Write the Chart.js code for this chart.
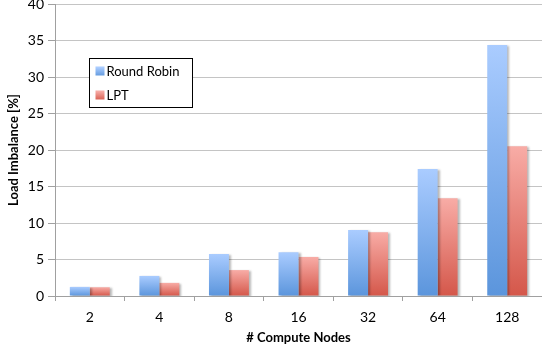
<!DOCTYPE html>
<html>
<head>
<meta charset="utf-8">
<script src="https://cdn.jsdelivr.net/npm/chart.js@4.4.1/dist/chart.umd.min.js"></script>
<style>
  html, body { margin: 0; padding: 0; background: #fff; }
  #wrap { width: 542px; height: 351px; position: relative; }
</style>
</head>
<body>
<div id="wrap"><canvas id="c"></canvas></div>
<script>
// Load imbalance per scheduling strategy over node counts
const nodeCounts = ['2', '4', '8', '16', '32', '64', '128'];
const roundRobin = [1.25, 2.75, 5.75, 6.0, 9.05, 17.4, 34.4];
const lpt = [1.2, 1.8, 3.55, 5.35, 8.75, 13.4, 20.5];
const yTicks = [0, 5, 10, 15, 20, 25, 30, 35, 40];

const FONT = 'Lato, "Open Sans", "DejaVu Sans", sans-serif';

// vertical gradient spanning each bar from its top to the baseline
function barGradient(top, bottom) {
  return function (ctx) {
    const chart = ctx.chart;
    if (!chart.chartArea || ctx.dataIndex === undefined) return top;
    const ys = chart.scales.y;
    const v = ctx.dataset.data[ctx.dataIndex];
    const y0 = ys.getPixelForValue(v);
    const y1 = ys.getPixelForValue(0);
    const g = chart.ctx.createLinearGradient(0, y0, 0, y1 + 0.01);
    g.addColorStop(0, top);
    g.addColorStop(1, bottom);
    return g;
  };
}

// soft drop shadow behind the bars
const barShadow = {
  id: 'barShadow',
  beforeDatasetsDraw(chart) {
    const c = chart.ctx;
    c.save();
    c.shadowColor = 'rgba(0,0,0,0.28)';
    c.shadowBlur = 2;
    c.shadowOffsetX = 2;
    c.shadowOffsetY = 1;
  },
  afterDatasetsDraw(chart) {
    chart.ctx.restore();
  }
};

// boxed legend inside the plot area
const insetLegend = {
  id: 'insetLegend',
  afterDraw(chart) {
    const c = chart.ctx;
    const x = 89.5, y = 58.5, w = 103, h = 49;
    c.save();
    c.fillStyle = '#fff';
    c.fillRect(x, y, w, h);
    c.strokeStyle = '#000';
    c.lineWidth = 1;
    c.strokeRect(x, y, w, h);
    const swatches = [
      ['#aaccff', '#5e97dc'],
      ['#f6aaa4', '#d65a4c']
    ];
    chart.data.datasets.forEach((ds, i) => {
      const cy = y + 13 + i * 24;
      const g = c.createLinearGradient(0, cy - 4, 0, cy + 5);
      g.addColorStop(0, swatches[i][0]);
      g.addColorStop(1, swatches[i][1]);
      c.fillStyle = g;
      c.fillRect(x + 6, cy - 5, 9, 9);
      c.fillStyle = '#000';
      c.font = '13px ' + FONT;
      c.textBaseline = 'middle';
      c.textAlign = 'left';
      c.fillText(ds.label, x + 17, cy);
    });
    c.restore();
  }
};

new Chart(document.getElementById('c'), {
  type: 'bar',
  data: {
    labels: nodeCounts,
    datasets: [
      {
        label: 'Round Robin',
        data: roundRobin,
        backgroundColor: barGradient('#aaccff', '#5b95dc'),
        borderWidth: 0
      },
      {
        label: 'LPT',
        data: lpt,
        backgroundColor: barGradient('#f8aca6', '#d4574a'),
        borderWidth: 0
      }
    ]
  },
  options: {
    responsive: true,
    maintainAspectRatio: false,
    animation: false,
    layout: { padding: { top: 0, right: 0, left: 0, bottom: 0 } },
    datasets: {
      bar: { categoryPercentage: 0.574, barPercentage: 1 }
    },
    plugins: {
      legend: { display: false },
      tooltip: { enabled: false }
    },
    scales: {
      x: {
        grid: {
          display: true,
          offset: true,
          drawOnChartArea: false,
          drawTicks: true,
          tickLength: 5,
          color: '#a0a0a0'
        },
        border: { display: true, color: '#a0a0a0' },
        ticks: {
          color: '#000',
          font: { family: FONT, size: 14 },
          padding: 8
        },
        title: {
          display: true,
          text: '# Compute Nodes',
          color: '#000',
          font: { family: FONT, size: 13, weight: 'bold' },
          padding: { top: 4, bottom: 5 }
        },
        afterFit(scale) { scale.height = 55; }
      },
      y: {
        min: 0,
        max: 40,
        afterBuildTicks(scale) {
          scale.ticks = yTicks.map(v => ({ value: v }));
        },
        grid: {
          color: '#c4c4c4',
          lineWidth: 1,
          tickLength: 7,
          tickColor: '#a0a0a0'
        },
        border: { display: true, color: '#a0a0a0' },
        ticks: {
          color: '#000',
          font: { family: FONT, size: 14 },
          padding: 4
        },
        title: {
          display: true,
          text: 'Load Imbalance [%]',
          color: '#000',
          font: { family: FONT, size: 13, weight: 'bold' },
          padding: { top: 6, bottom: 0 }
        },
        afterFit(scale) {
          scale.width = 55;
          scale.paddingTop = 4;
        }
      }
    }
  },
  plugins: [barShadow, insetLegend]
});
</script>
</body>
</html>
